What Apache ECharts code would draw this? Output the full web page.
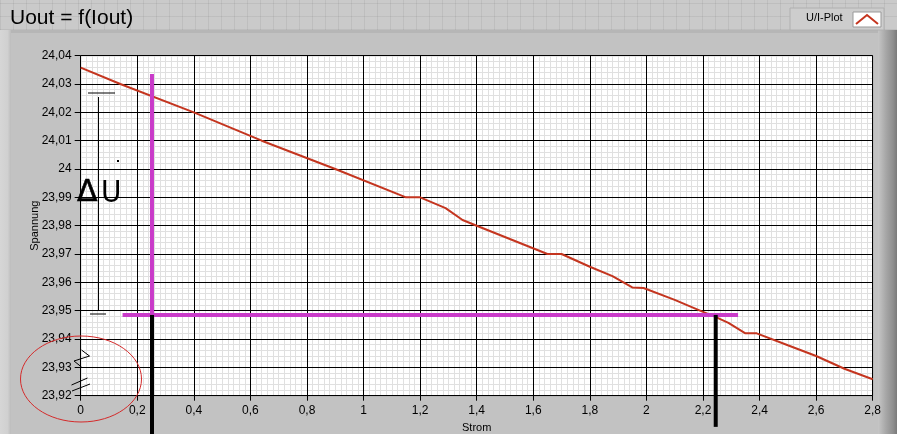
<!DOCTYPE html>
<html><head><meta charset="utf-8">
<script src="https://cdn.jsdelivr.net/npm/echarts@6/dist/echarts.min.js"></script>
<style>
html,body{margin:0;padding:0;}
#wrap{position:relative;width:897px;height:434px;overflow:hidden;background:#c2c2c2;}
#band{position:absolute;left:0;top:0;width:897px;height:30px;background-color:#cacaca;
 background-image:repeating-linear-gradient(90deg,rgba(0,0,0,0.06) 0 1px,transparent 1px 13px),repeating-linear-gradient(0deg,rgba(0,0,0,0.06) 0 1px,transparent 1px 13px);}
#panelTop{position:absolute;left:0;top:30px;width:897px;height:3px;background:#b6b6b6;}
#leftStrip{position:absolute;left:0;top:30px;width:11px;height:404px;background:linear-gradient(90deg,#d6d6d6,#d0d0d0 70%,#bcbcbc);}
#rightFrame{position:absolute;left:878px;top:30px;width:19px;height:404px;background:linear-gradient(90deg,#c6c6c6,#a8a8a8 40%,#8e8e8e 80%,#7a7a7a);}
#chart{position:absolute;left:0;top:0;width:897px;height:434px;}
</style>
</head><body>
<div id="wrap">
<div id="band"></div><div id="panelTop"></div><div id="leftStrip"></div><div id="rightFrame"></div>
<div id="chart"></div>
</div>
<script>
// ---- data ----
const titleText = 'Uout = f(Iout)';
const legendName = 'U/I-Plot';
const xName = 'Strom';
const yName = 'Spannung';
const strom    = [0, 0.14, 0.40, 0.64, 0.90, 1.15, 1.20, 1.29, 1.35, 1.40, 1.65, 1.70, 1.80, 1.88, 1.95, 1.99, 2.10, 2.20, 2.24, 2.29, 2.35, 2.39, 2.50, 2.60, 2.70, 2.80];
const spannung = [24.0358, 24.0300, 24.0200, 24.0100, 24.0000, 23.9900, 23.9900, 23.9862, 23.9820, 23.9800, 23.9700, 23.9700, 23.9655, 23.9622, 23.9582, 23.9580, 23.9538, 23.9496, 23.9480, 23.9457, 23.9420, 23.9420, 23.9378, 23.9340, 23.9295, 23.9258];
const xMin = 0, xMax = 2.8, xStep = 0.2;
const yMin = 23.92, yMax = 24.04, yStep = 0.01;
// annotation guides (data coords)
const markX1 = 0.252, markX2 = 2.245;
const markY = 23.9485;
const magentaTopY = 24.0335;
const magentaLeftX = 0.148, magentaRightX = 2.324;
const black2BottomY = 23.909;

function fmt(v, d){ return String(parseFloat(v.toFixed(d))).replace('.', ','); }

const chart = echarts.init(document.getElementById('chart'), null, {renderer:'canvas'});
const font = 'Liberation Sans';
const minorAxisX = {
  type: 'value', min: xMin, max: xMax, interval: xStep, position: 'bottom', z: 1,
  axisLine: { show: false }, axisTick: { show: false }, axisLabel: { show: false },
  splitLine: { show: false },
  minorTick: { show: false, splitNumber: 10 },
  minorSplitLine: { show: true, lineStyle: { color: '#e0e0e0', width: 1 } }
};
const minorAxisY = {
  type: 'value', min: yMin, max: yMax, interval: yStep, position: 'left', z: 1,
  axisLine: { show: false }, axisTick: { show: false }, axisLabel: { show: false },
  splitLine: { show: false },
  minorTick: { show: false, splitNumber: 5 },
  minorSplitLine: { show: true, lineStyle: { color: '#e0e0e0', width: 1 } }
};
chart.setOption({
  backgroundColor: 'transparent',
  animation: false,
  title: { text: titleText, left: 5, top: 3, textStyle: { fontFamily: 'Liberation Sans', fontSize: 21, fontWeight: 'normal', color: '#000' } },
  grid: { left: 80.7, right: 24.3, top: 55.7, bottom: 38.3, containLabel: false, outerBoundsMode: 'none',
    show: true, backgroundColor: '#ffffff', borderColor: '#8a8a8a', borderWidth: 1, z: 0 },
  xAxis: [minorAxisX, {
    type: 'value', min: xMin, max: xMax, interval: xStep, position: 'bottom', z: 2,
    name: xName, nameLocation: 'middle', nameGap: 27,
    nameTextStyle: { fontFamily: font, fontSize: 11, color: '#000' },
    axisLine: { show: false },
    axisTick: { show: true, length: 5, lineStyle: { color: '#000' } },
    axisLabel: { fontFamily: font, fontSize: 12, color: '#000', margin: 9, formatter: v => fmt(v, 1) },
    splitLine: { show: true, lineStyle: { color: '#000', width: 1 } }
  }],
  yAxis: [minorAxisY, {
    type: 'value', min: yMin, max: yMax, interval: yStep, position: 'left', z: 2,
    name: yName, nameLocation: 'middle', nameGap: 40, nameRotate: 90, nameMoveOverlap: false,
    nameTextStyle: { fontFamily: font, fontSize: 11, color: '#000' },
    axisLine: { show: false },
    axisTick: { show: true, length: 6, lineStyle: { color: '#000' } },
    axisLabel: { fontFamily: font, fontSize: 12, color: '#000', margin: 9, formatter: v => fmt(v, 2) },
    splitLine: { show: true, lineStyle: { color: '#000', width: 1 } }
  }],
  series: [{
    name: legendName, type: 'line', symbol: 'none', smooth: false,
    xAxisIndex: 1, yAxisIndex: 1,
    data: strom.map((x, i) => [x, spannung[i]]),
    lineStyle: { color: '#c4351f', width: 2 }, z: 5
  }]
});

const P = (x, y) => chart.convertToPixel({xAxisIndex: 1, yAxisIndex: 1}, [x, y]);
const mTop = P(markX1, magentaTopY), mBot = P(markX1, markY);
const hL = P(magentaLeftX, markY), hR = P(magentaRightX, markY);
const b2 = P(markX2, markY), b2b = P(markX2, black2BottomY);
const magenta = '#c93bc9';
chart.setOption({
  graphic: [
    // legend
    { type: 'rect', shape: { x: 790, y: 8, width: 94, height: 22 }, style: { fill: '#cdcdcd', stroke: '#b0b0b0', lineWidth: 1 }, z: 10 },
    { type: 'text', x: 806, y: 12, style: { text: legendName, fontFamily: font, fontSize: 11, fill: '#000' }, z: 11 },
    { type: 'rect', shape: { x: 853, y: 12, width: 28, height: 15 }, style: { fill: '#ffffff', stroke: '#999', lineWidth: 1 }, z: 11 },
    { type: 'polyline', shape: { points: [[856, 24], [867, 15], [878, 24]] }, style: { stroke: '#c4351f', lineWidth: 2, fill: null }, z: 12 },
    // guide lines
    { type: 'line', shape: { x1: mTop[0], y1: mTop[1], x2: mBot[0], y2: mBot[1] }, style: { stroke: magenta, lineWidth: 4 }, z: 20 },
    { type: 'line', shape: { x1: hL[0], y1: hL[1], x2: hR[0], y2: hR[1] }, style: { stroke: magenta, lineWidth: 4 }, z: 20 },
    { type: 'line', shape: { x1: mBot[0], y1: mBot[1], x2: mBot[0], y2: 434 }, style: { stroke: '#000', lineWidth: 4 }, z: 21 },
    { type: 'line', shape: { x1: b2[0], y1: b2[1], x2: b2b[0], y2: b2b[1] }, style: { stroke: '#000', lineWidth: 4 }, z: 21 },
    // hand-drawn delta U
    { type: 'line', shape: { x1: 88, y1: 93, x2: 115, y2: 93 }, style: { stroke: '#000', lineWidth: 1 }, z: 20 },
    { type: 'line', shape: { x1: 98.5, y1: 97, x2: 98.5, y2: 310 }, style: { stroke: '#000', lineWidth: 1 }, z: 20 },
    { type: 'line', shape: { x1: 90, y1: 314, x2: 106, y2: 314 }, style: { stroke: '#000', lineWidth: 1 }, z: 20 },
    { type: 'rect', shape: { x: 117, y: 160, width: 2, height: 2 }, style: { fill: '#000' }, z: 20 },
    { type: 'text', x: 77, y: 178, style: { text: 'Δ', fontFamily: 'DejaVu Sans', fontSize: 30, fill: '#000', stroke: '#000', lineWidth: 0.6 }, z: 20 },
    { type: 'text', x: 101, y: 178, style: { text: 'U', fontFamily: 'DejaVu Sans Condensed', fontSize: 31, fill: '#000' }, z: 20 },
    // break marks + ellipse
    { type: 'polyline', shape: { points: [[81.5, 350], [89.5, 356], [74, 361], [81.5, 367]] }, style: { stroke: '#000', lineWidth: 1, fill: null }, z: 20 },
    { type: 'line', shape: { x1: 71.5, y1: 385, x2: 87.5, y2: 378 }, style: { stroke: '#000', lineWidth: 1 }, z: 20 },
    { type: 'line', shape: { x1: 72, y1: 391, x2: 90, y2: 384 }, style: { stroke: '#000', lineWidth: 1 }, z: 20 },
    { type: 'ellipse', shape: { cx: 81, cy: 379, rx: 60.5, ry: 43 }, style: { stroke: '#d42a2a', lineWidth: 1, fill: null }, z: 20 }
  ]
});
</script>
</body></html>
